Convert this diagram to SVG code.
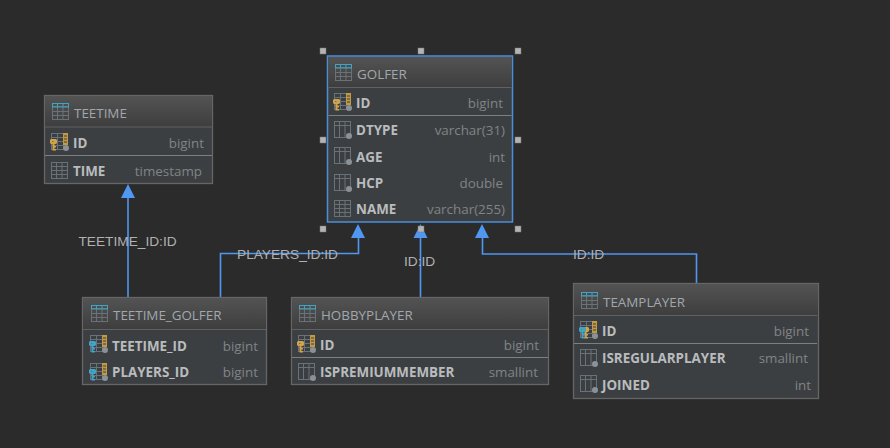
<svg xmlns="http://www.w3.org/2000/svg" width="890" height="448" viewBox="0 0 890 448">
<style>
text{font-family:"Open Sans","Noto Sans","DejaVu Sans",sans-serif}
.box{fill:#3c3f41;stroke:#646668;stroke-width:1.3}
.sel{stroke:#4b8fdc;stroke-width:1.5}
.sep{stroke:#5f6163;stroke-width:1.2}
.sep2{stroke:#7d7f81;stroke-width:1.2}
.title{font-size:13.4px;fill:#a0a8ad}
.col{font-size:13.4px;font-weight:700;fill:#b9bcbe}
.type{font-size:13.4px;fill:#808487;text-anchor:end}
.lbl{font-family:"Liberation Sans",Arial,sans-serif;font-size:13.7px;fill:#b0b0b0}
.con{fill:none;stroke:#4f97f0;stroke-width:1.6}
.head{fill:#4f97f0}
.h{fill:#b4b4b4;stroke:#777;stroke-width:.5}
.g{fill:none;stroke:#687278;stroke-width:1}
.dot{fill:#8a9298}
.gold{fill:#d1a348}
.blue{fill:#3fa4c6}
</style>
<defs>
<linearGradient id="hd" x1="0" y1="0" x2="0" y2="1"><stop offset="0" stop-color="#535353"/><stop offset="1" stop-color="#3e3e3e"/></linearGradient>
<symbol id="tbl" width="17" height="17" viewBox="0 0 17 17" overflow="visible">
<rect x="0.5" y="0.5" width="16" height="16" class="g"/><path d="M.5 4.500H16.500M.5 8.500H16.500M.5 12.500H16.500M5.500 .5V16.500M11 .5V16.500" class="g"/>
</symbol>
<symbol id="ttl" width="17" height="17" viewBox="0 0 17 17" overflow="visible">
<rect x="0.5" y="3.500" width="16" height="13" class="g"/><path d="M.5 8.500H16.500M.5 12.500H16.500M5.500 3.500V16.500M11 3.500V16.500" class="g"/>
<rect x="0.5" y="0.500" width="16" height="3.500" fill="none" stroke="#3fa4c6"/><path d="M5.500 .5V3.500M11 .5V3.500" stroke="#3fa4c6"/>
</symbol>
<symbol id="col" width="18" height="18" viewBox="0 0 18 18" overflow="visible">
<rect x="0.5" y="0.5" width="16" height="16" class="g"/><path d="M.5 4.500H16.500M5.500 .5V16.500M11 .5V16.500" class="g"/><circle cx="15" cy="15" r="3" class="dot"/>
</symbol>
<symbol id="pk" width="20" height="18" viewBox="0 0 20 18" overflow="visible">
<rect x="1.500" y="0.500" width="12" height="16" class="g"/><path d="M1.500 4.500H13M1.500 8.500H13M1.500 12.500H13M7.500 .5V16.500" class="g"/><rect x="13" y="0" width="5" height="12" fill="#c29a45"/><path d="M14 3H17M14 6H17M14 9H17" stroke="#3c3f41"/><circle cx="16" cy="15" r="3" class="dot"/>
</symbol>
<symbol id="key" width="7" height="12" viewBox="0 0 7 12" overflow="visible">
<path fill-rule="evenodd" d="M1 0H6L7 1V4L6 5H4.500V7H6V8.500H4.500V10H6V11.500H2.500V5H1L0 4V1ZM2 2V3H3.500V2Z"/>
</symbol>
</defs>
<rect width="890" height="448" fill="#2b2b2b"/>

<g id="connectors">
<path class="con" d="M128 297.500V197"/><path class="head" d="M128 184l7 14h-14z"/>
<path class="con" d="M220.500 297.500V253.500H358.500V237"/><path class="head" d="M358 224l7 14h-14z"/>
<path class="con" d="M420.500 297.500V237"/><path class="head" d="M420.500 224l7 14h-14z"/>
<path class="con" d="M696.500 283.500V254H482.500V237"/><path class="head" d="M482 224l7 14h-14z"/>
<text class="lbl" x="78.500" y="246">TEETIME_ID:ID</text>
<text class="lbl" x="237" y="259">PLAYERS_ID:ID</text>
<text class="lbl" x="404" y="266">ID:ID</text>
<text class="lbl" x="573" y="259">ID:ID</text>
</g>

<g id="teetime">
<rect class="box" x="44.500" y="95.500" width="168" height="88"/>
<rect x="45" y="96" width="167" height="31" fill="url(#hd)"/>
<path class="sep" d="M45 127H212"/><path class="sep2" d="M45 155.500H212"/>
<use href="#ttl" x="52" y="103"/>
<text class="title" x="74" y="118">TEETIME</text>
<use href="#pk" x="50" y="133"/>
<use href="#key" class="gold" x="50" y="139"/>
<text class="col" x="73" y="148">ID</text><text class="type" x="204" y="148">bigint</text>
<use href="#tbl" x="51" y="162"/>
<text class="col" x="73" y="176">TIME</text><text class="type" x="202" y="176">timestamp</text>
</g>

<g id="golfer">
<rect class="box sel" x="327.500" y="56" width="185" height="166"/>
<rect x="328.500" y="57" width="183" height="30" fill="url(#hd)"/>
<path class="sep" d="M328.500 87.500H511.500"/><path class="sep2" d="M328.500 115.500H511.500"/>
<use href="#ttl" x="335" y="64"/>
<text class="title" x="357" y="79">GOLFER</text>
<use href="#pk" x="333" y="93"/>
<use href="#key" class="gold" x="333" y="99"/>
<text class="col" x="356" y="108">ID</text><text class="type" x="503" y="108">bigint</text>
<use href="#col" x="334" y="121"/>
<text class="col" x="356" y="135">DTYPE</text><text class="type" x="505" y="135">varchar(31)</text>
<use href="#col" x="334" y="147"/>
<text class="col" x="356" y="162">AGE</text><text class="type" x="505" y="162">int</text>
<use href="#col" x="334" y="174"/>
<text class="col" x="356" y="188">HCP</text><text class="type" x="503" y="188">double</text>
<use href="#tbl" x="334" y="200"/>
<text class="col" x="356" y="214">NAME</text><text class="type" x="505" y="214">varchar(255)</text>
<rect class="h" x="320" y="48" width="6" height="6"/><rect class="h" x="418" y="48" width="6" height="6"/><rect class="h" x="515" y="48" width="6" height="6"/>
<rect class="h" x="320" y="137" width="6" height="6"/><rect class="h" x="515" y="137" width="6" height="6"/>
<rect class="h" x="320" y="226" width="6" height="6"/><rect class="h" x="418" y="226" width="6" height="6"/><rect class="h" x="515" y="226" width="6" height="6"/>
</g>

<g id="teetime_golfer">
<rect class="box" x="82.500" y="297.500" width="184" height="87"/>
<rect x="83" y="298" width="183" height="31" fill="url(#hd)"/>
<path class="sep" d="M83 329.500H266"/>
<use href="#ttl" x="91" y="305"/>
<text class="title" x="113" y="320">TEETIME_GOLFER</text>
<use href="#pk" x="89" y="335"/>
<use href="#key" class="blue" x="89" y="341"/>
<text class="col" x="112" y="351">TEETIME_ID</text><text class="type" x="258" y="351">bigint</text>
<use href="#pk" x="89" y="363"/>
<use href="#key" class="blue" x="89" y="369"/>
<text class="col" x="112" y="377">PLAYERS_ID</text><text class="type" x="258" y="377">bigint</text>
</g>

<g id="hobbyplayer">
<rect class="box" x="291.500" y="297.500" width="257" height="87"/>
<rect x="292" y="298" width="256" height="31" fill="url(#hd)"/>
<path class="sep" d="M292 329.500H548"/><path class="sep2" d="M292 357.500H548"/>
<use href="#ttl" x="299" y="305"/>
<text class="title" x="321" y="320">HOBBYPLAYER</text>
<use href="#pk" x="297" y="335"/>
<use href="#key" class="gold" x="297" y="341"/>
<text class="col" x="320" y="350">ID</text><text class="type" x="539" y="350">bigint</text>
<use href="#col" x="298" y="363"/>
<text class="col" x="320" y="377">ISPREMIUMMEMBER</text><text class="type" x="538" y="377">smallint</text>
</g>

<g id="teamplayer">
<rect class="box" x="573.500" y="283.500" width="245" height="115"/>
<rect x="574" y="284" width="244" height="31" fill="url(#hd)"/>
<path class="sep" d="M574 315.500H817"/><path class="sep2" d="M574 343.500H817"/>
<use href="#ttl" x="581" y="292"/>
<text class="title" x="603" y="307">TEAMPLAYER</text>
<use href="#pk" x="579" y="321"/>
<use href="#key" class="gold" x="582" y="327"/>
<use href="#key" class="blue" x="579" y="327"/>
<text class="col" x="602" y="336">ID</text><text class="type" x="809" y="336">bigint</text>
<use href="#col" x="580" y="349"/>
<text class="col" x="602" y="363">ISREGULARPLAYER</text><text class="type" x="808" y="363">smallint</text>
<use href="#col" x="580" y="375"/>
<text class="col" x="602" y="390">JOINED</text><text class="type" x="811" y="390">int</text>
</g>
</svg>
